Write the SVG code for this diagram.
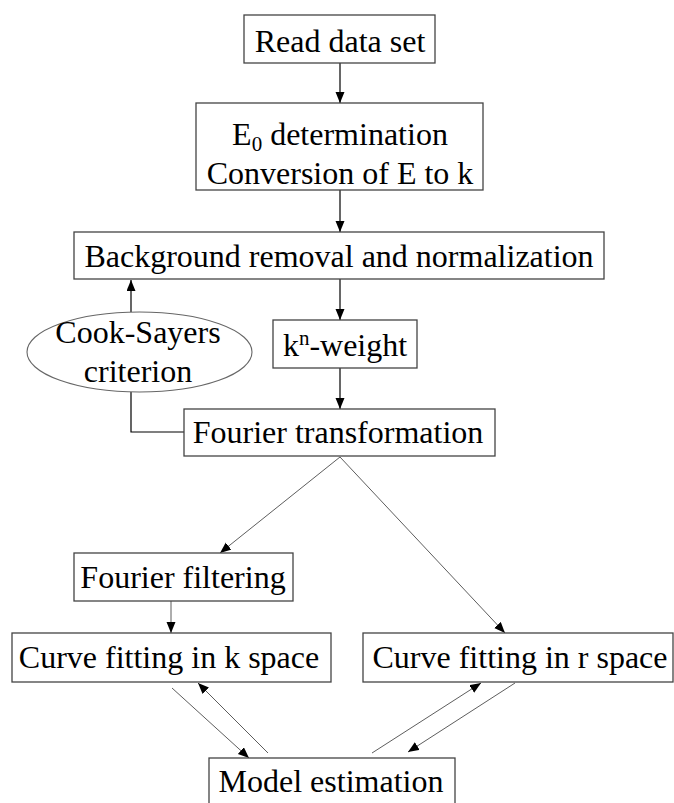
<svg xmlns="http://www.w3.org/2000/svg" width="674" height="803" viewBox="0 0 674 803">
<style>
.box{fill:#fff;stroke:#444;stroke-width:1.3}
.ell{fill:#fff;stroke:#666;stroke-width:1.1}
.t{font-family:"Liberation Serif","Times New Roman",serif;font-size:32px;fill:#000;text-anchor:middle}
.c{fill:none;stroke:#000;stroke-width:1.2}
.d{fill:none;stroke:#333;stroke-width:0.8}
</style>
<defs>
<marker id="ah" markerUnits="userSpaceOnUse" markerWidth="12" markerHeight="10" refX="11" refY="4.5" orient="auto">
<path d="M0,0 L11,4.5 L0,9 z" fill="#000"/>
</marker>
</defs>
<rect width="674" height="803" fill="#fff"/>
<g id="connectors">
<line class="c" x1="340" y1="63" x2="340" y2="103" marker-end="url(#ah)"/>
<line class="c" x1="340" y1="190" x2="340" y2="232" marker-end="url(#ah)"/>
<line class="c" x1="340" y1="279" x2="340" y2="320" marker-end="url(#ah)"/>
<line class="c" x1="340" y1="368" x2="340" y2="409" marker-end="url(#ah)"/>
<line class="c" x1="131" y1="312" x2="131" y2="280" marker-end="url(#ah)"/>
<polyline class="c" points="184,432 131,432 131,392"/>
<line class="d" x1="340" y1="457" x2="220" y2="553" marker-end="url(#ah)"/>
<line class="d" x1="340" y1="457" x2="505" y2="633" marker-end="url(#ah)"/>
<line class="d" x1="171" y1="601" x2="171" y2="633" marker-end="url(#ah)"/>
<line class="d" x1="172" y1="688" x2="249" y2="758" marker-end="url(#ah)"/>
<line class="d" x1="268" y1="753" x2="198" y2="683" marker-end="url(#ah)"/>
<line class="d" x1="372" y1="753" x2="481" y2="683" marker-end="url(#ah)"/>
<line class="d" x1="515" y1="683" x2="408" y2="752" marker-end="url(#ah)"/>
</g>
<g id="read">
<rect class="box" x="244" y="15" width="191" height="48"/>
<text class="t" x="340" y="52">Read data set</text>
</g>
<g id="e0">
<rect class="box" x="196" y="103" width="287" height="87"/>
<text class="t" x="340" y="145">E<tspan font-size="21" dy="6">0</tspan><tspan dy="-6"> determination</tspan></text>
<text class="t" x="340" y="184">Conversion of E to k</text>
</g>
<g id="background">
<rect class="box" x="74" y="232" width="530" height="47"/>
<text class="t" x="339" y="267">Background removal and normalization</text>
</g>
<g id="cook">
<ellipse class="ell" cx="139.5" cy="352" rx="112.5" ry="40"/>
<text class="t" x="138" y="343">Cook-Sayers</text>
<text class="t" x="138" y="382">criterion</text>
</g>
<g id="kweight">
<rect class="box" x="273" y="320" width="144" height="48"/>
<text class="t" x="345" y="356">k<tspan font-size="21" dy="-11">n</tspan><tspan dy="11">-weight</tspan></text>
</g>
<g id="fourier">
<rect class="box" x="184" y="409" width="311" height="47"/>
<text class="t" x="338" y="443">Fourier transformation</text>
</g>
<g id="filtering">
<rect class="box" x="74" y="553" width="219" height="48"/>
<text class="t" x="183" y="588">Fourier filtering</text>
</g>
<g id="kspace">
<rect class="box" x="12" y="633" width="319" height="49"/>
<text class="t" x="169" y="668">Curve fitting in k space</text>
</g>
<g id="rspace">
<rect class="box" x="363" y="633" width="310" height="49"/>
<text class="t" x="520" y="668">Curve fitting in r space</text>
</g>
<g id="model">
<rect class="box" x="209" y="758" width="246" height="60"/>
<text class="t" x="331" y="792">Model estimation</text>
</g>
</svg>
